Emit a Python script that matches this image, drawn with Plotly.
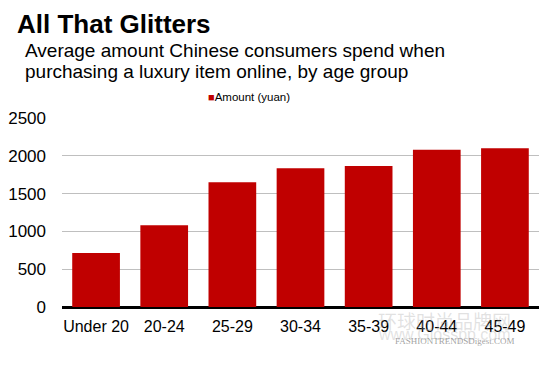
import plotly.graph_objects as go

categories = ["Under 20", "20-24", "25-29", "30-34", "35-39", "40-44", "45-49"]
amounts = [715, 1080, 1650, 1835, 1865, 2080, 2100]
y_ticks = [0, 500, 1000, 1500, 2000, 2500]
series_name = "Amount (yuan)"
title_text = "All That Glitters"
subtitle_lines = ["Average amount Chinese consumers spend when",
                  "purchasing a luxury item online, by age group"]

RED = "#C00000"
FONT = "Liberation Sans, Arial, sans-serif"

# page offset (body margin) and plot area in page pixels
OFF = 8
X0, W = 62, 477
YB, H = 307, 189
def px(x):
    return (x - X0) / W
def py(y):
    return (YB - y) / H

fig = go.Figure()
fig.add_trace(go.Bar(x=categories, y=amounts, name=series_name,
                     marker=dict(color=RED, line=dict(width=0)),
                     showlegend=False))

annotations = [
    dict(text="<b>" + title_text + "</b>", x=px(15), y=py(24), xanchor="left", yanchor="middle",
         font=dict(size=26, color="#000000", family=FONT)),
    dict(text=subtitle_lines[0], x=px(23), y=py(50), xanchor="left", yanchor="middle",
         font=dict(size=19, color="#000000", family=FONT)),
    dict(text=subtitle_lines[1], x=px(23), y=py(71), xanchor="left", yanchor="middle",
         font=dict(size=19, color="#000000", family=FONT)),
    dict(text="<span style='color:%s;font-size:11px'>■</span>%s" % (RED, series_name),
         x=px(206), y=py(97), xanchor="left", yanchor="middle",
         font=dict(size=11.5, color="#000000", family=FONT)),
    # faint watermarks from the source image
    dict(text="环球时尚品牌网", x=px(513), y=py(320), xanchor="right", yanchor="middle",
         font=dict(size=19, color="rgba(170,170,170,0.35)", family="Noto Sans CJK SC")),
    dict(text="www.Glosspp.com", x=px(513), y=py(334), xanchor="right", yanchor="middle",
         font=dict(size=16, color="rgba(170,170,170,0.35)", family=FONT)),
    dict(text="FASHIONTRENDSDigest.COM", x=px(517), y=py(341), xanchor="right", yanchor="middle",
         font=dict(size=9, color="rgba(120,120,120,0.7)", family="Liberation Serif, serif")),
]
for a in annotations:
    a.update(xref="paper", yref="paper", showarrow=False)

fig.update_layout(
    width=553, height=369,
    margin=dict(l=X0 - OFF, r=553 - (X0 + W - OFF), t=(YB - H) - OFF, b=369 - (YB - OFF),
                autoexpand=False),
    paper_bgcolor="white", plot_bgcolor="white",
    bargap=0.3,
    font=dict(family=FONT, color="#000000"),
    annotations=annotations,
    xaxis=dict(showgrid=False, showline=False, ticks="",
               tickfont=dict(size=16, family=FONT, color="#000000"),
               ticklabelstandoff=8),
    yaxis=dict(range=[0, 2500], tickvals=y_ticks, showgrid=True,
               gridcolor="#BFBFBF", gridwidth=1,
               zeroline=True, zerolinecolor="#000000", zerolinewidth=3,
               showline=False, ticks="",
               tickfont=dict(size=17, family=FONT, color="#000000"),
               ticklabelstandoff=15),
)

fig.write_html("out.html")
